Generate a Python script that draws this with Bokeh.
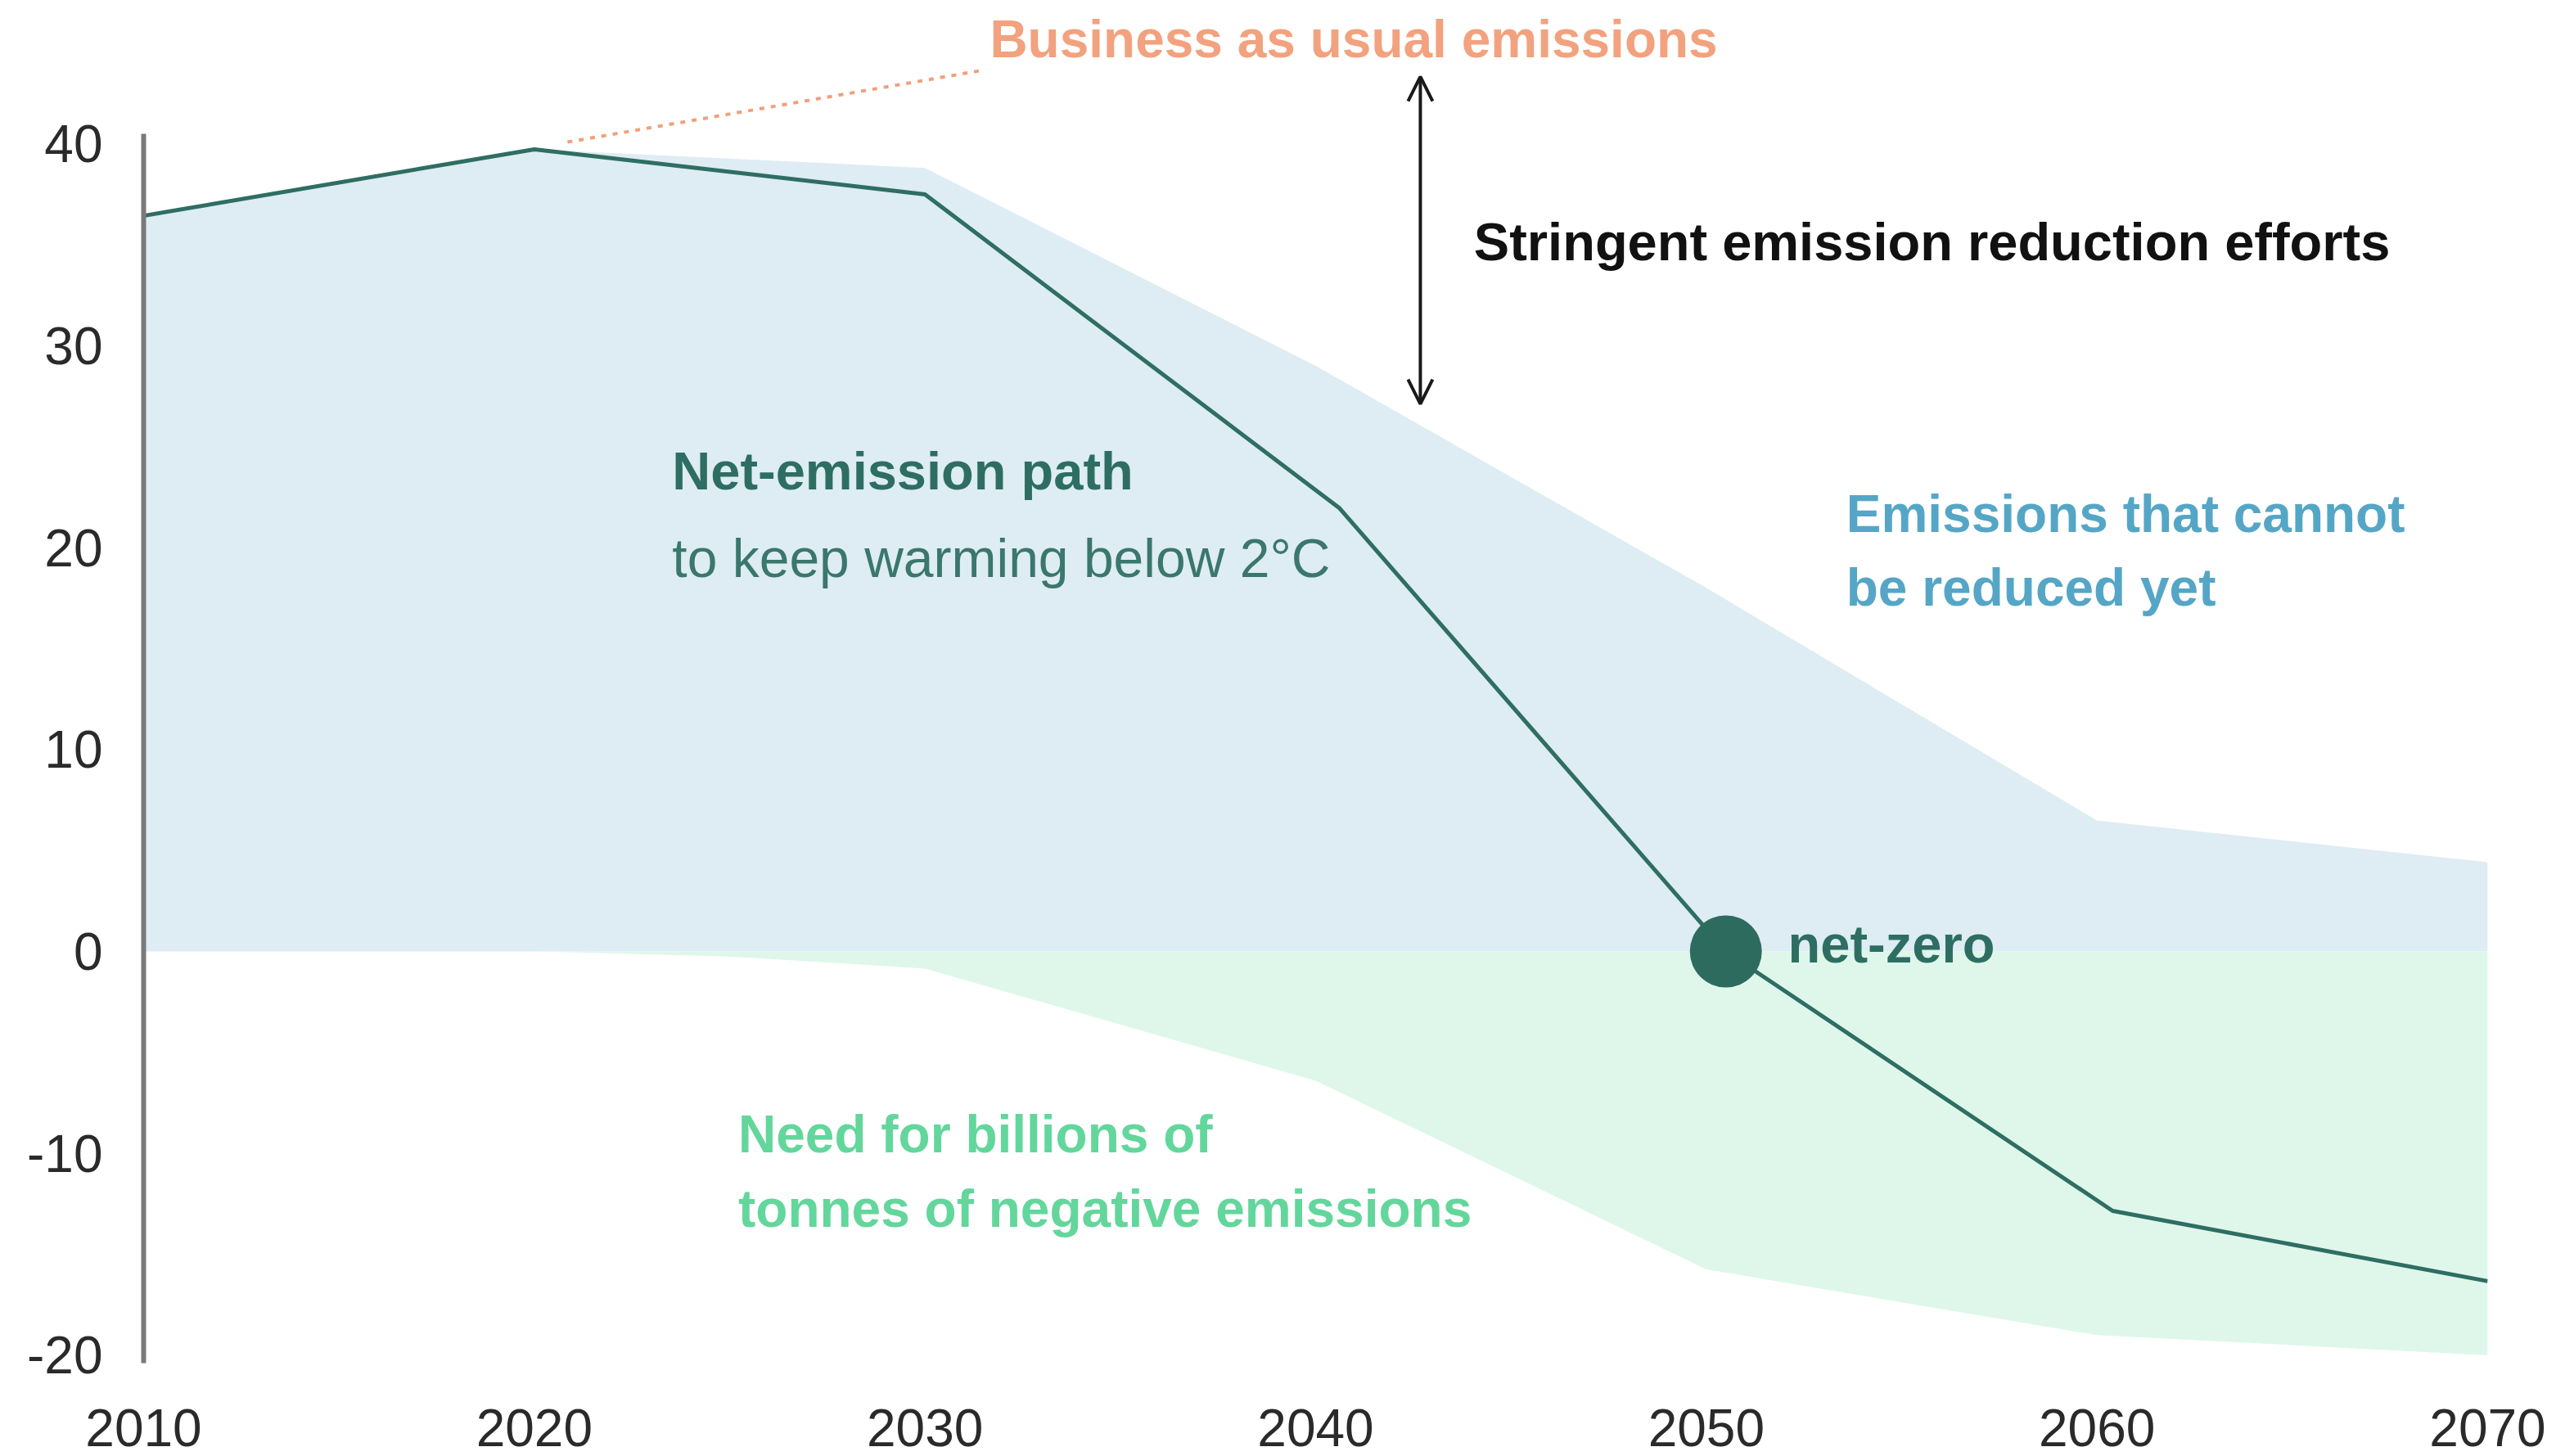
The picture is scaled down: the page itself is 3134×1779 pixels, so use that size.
from bokeh.plotting import figure
from bokeh.models import FixedTicker, Range1d, Arrow, OpenHead, Label
from bokeh.embed import file_html
from bokeh.resources import INLINE

# ---- data ----
area_years = [2010, 2020, 2030, 2040, 2050, 2060, 2070]
unreducible_top = [36.43, 39.72, 38.8, 29.0, 18.0, 6.48, 4.42]

negative_years = [2020, 2025, 2030, 2040, 2050, 2060, 2070]
negative_bottom = [0.0, -0.25, -0.85, -6.4, -15.75, -19.0, -20.0]

path_years = [2010, 2020, 2030, 2040.6, 2050.5, 2060.4, 2070]
net_path = [36.43, 39.72, 37.49, 21.97, 0.0, -12.85, -16.33]

net_zero_year = [2050.5]
net_zero_value = [0.0]

bau_years = [2020.85, 2031.4]
bau_values = [40.08, 43.61]

effort_year = 2042.68
effort_top = 43.32
effort_bottom = 27.11

x_ticks = [2010, 2020, 2030, 2040, 2050, 2060, 2070]
y_ticks = [-20, -10, 0, 10, 20, 30, 40]
y_tick_labels = ["-20", "-10", "0", "10", "20", "30", "40"]

FONT = "Liberation Sans"
FS = "64px"

p = figure(width=3118, height=1779, output_backend="svg", toolbar_location=None,
           x_range=Range1d(2010, 2070), y_range=Range1d(-20.63, 46.77),
           min_border_left=175, min_border_right=79, min_border_top=8,
           min_border_bottom=108)
p.outline_line_color = None
p.grid.visible = False
p.background_fill_color = "white"

# areas
p.varea(x=area_years, y1=[0] * len(area_years), y2=unreducible_top,
        fill_color="#DEECF3")
p.varea(x=negative_years, y1=[0] * len(negative_years), y2=negative_bottom,
        fill_color="#DFF7EB")

# business-as-usual pointer line
p.line(bau_years, bau_values, line_color="#F0A07C", line_width=4, line_dash="6 8")

# net emission path
p.line(path_years, net_path, line_color="#2F6E62", line_width=5)
p.scatter(net_zero_year, net_zero_value, size=88, fill_color="#2E6B5F",
          line_color=None)

# arrow
p.add_layout(Arrow(start=OpenHead(size=30, line_width=4, line_color="#1A1A1A"),
                   end=OpenHead(size=30, line_width=4, line_color="#1A1A1A"),
                   x_start=effort_year, y_start=effort_bottom,
                   x_end=effort_year, y_end=effort_top,
                   line_width=4, line_color="#1A1A1A"))

# annotations
labels = [
    ("Business as usual emissions", 2031.66, 45.16, "#F2A27E", "bold", "64px"),
    ("Stringent emission reduction efforts", 2044.05, 35.15, "#111111", "bold", "65px"),
    ("Net-emission path", 2023.53, 23.80, "#2E6E62", "bold", "65px"),
    ("to keep warming below 2°C", 2023.53, 19.46, "#3A776C", "normal", "66px"),
    ("Emissions that cannot", 2053.58, 21.65, "#55A6C6", "bold", "64px"),
    ("be reduced yet", 2053.58, 18.00, "#55A6C6", "bold", "64px"),
    ("Need for billions of", 2025.22, -9.07, "#63D69C", "bold", "64px"),
    ("tonnes of negative emissions", 2025.22, -12.76, "#63D69C", "bold", "64px"),
    ("net-zero", 2052.09, 0.35, "#2E6E62", "bold", "65px"),
]
for txt, lx, ly, col, style, fs in labels:
    p.add_layout(Label(x=lx, y=ly, text=txt, text_color=col, text_font=FONT,
                       text_font_size=fs, text_font_style=style,
                       text_align="left", text_baseline="alphabetic"))

# axes
xa = p.xaxis[0]
xa.ticker = FixedTicker(ticks=x_ticks)
xa.axis_line_color = None
xa.major_tick_line_color = None
xa.minor_tick_line_color = None
xa.major_label_text_font = FONT
xa.major_label_text_font_size = FS
xa.major_label_text_color = "#2A2A2A"
xa.major_label_standoff = 44

ya = p.yaxis[0]
ya.ticker = FixedTicker(ticks=y_ticks)
ya.major_label_overrides = dict(zip(y_ticks, y_tick_labels))
ya.bounds = (-20.4, 40.5)
ya.axis_line_color = "#7A7A7A"
ya.axis_line_width = 6
ya.major_tick_line_color = None
ya.minor_tick_line_color = None
ya.major_label_text_font = FONT
ya.major_label_text_font_size = FS
ya.major_label_text_color = "#2A2A2A"
ya.major_label_standoff = 44

open("out.html", "w").write(file_html(p, INLINE))
